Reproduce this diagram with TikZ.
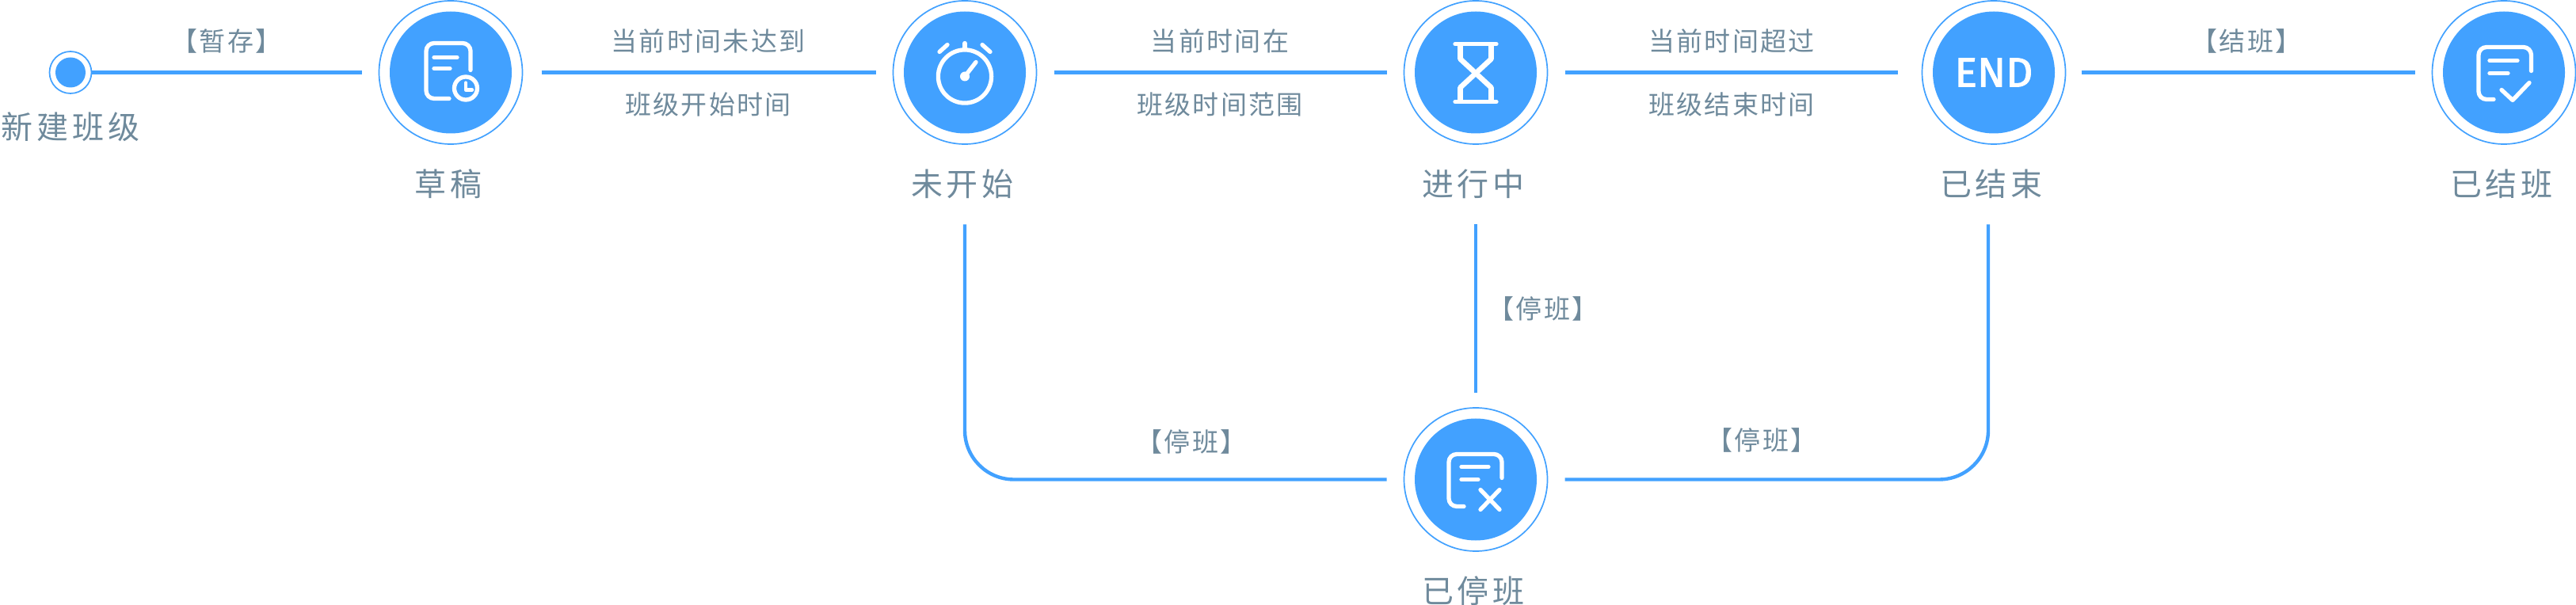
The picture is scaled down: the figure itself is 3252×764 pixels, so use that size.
\documentclass[tikz,border=0pt]{standalone}
\usepackage{fontspec}
\usepackage{xcolor}
\usetikzlibrary{positioning}
\setmainfont{Noto Sans CJK SC}
\newfontfamily\captionfont[LetterSpace=12]{Noto Sans CJK SC}
\newfontfamily\notefont[LetterSpace=7]{Noto Sans CJK SC}
\newfontfamily\endfont[FakeStretch=1.02,FakeBold=2]{Fira Sans}
\definecolor{flowblue}{HTML}{42A1FF}
\definecolor{flowgray}{HTML}{6F8A9C}

\begin{document}
\begin{tikzpicture}[  x=0.5pt,  y=-0.5pt,  node distance=15pt,  stage/.style={    circle,    draw=flowblue,    line width=0.85pt,    inner sep=0pt,    outer sep=0pt,    minimum size=90.5pt,    path picture={\fill[flowblue] (path picture bounding box.center) circle (38.5pt);}  },  startdot/.style={    circle,    draw=flowblue,    line width=0.85pt,    inner sep=0pt,    outer sep=0pt,    minimum size=26.5pt,    path picture={\fill[flowblue] (path picture bounding box.center) circle (9.5pt);}  },  caption/.style={    inner sep=0pt,    xshift=-1.5pt,    text=flowgray,    font=\captionfont\fontsize{20pt}{20pt}\selectfont,    text height=17.6pt,    text depth=2.4pt  },  note/.style={    inner sep=0pt,    text=flowgray,    font=\notefont\fontsize{16.5pt}{16.5pt}\selectfont,    text height=15.3pt,    text depth=2.7pt  },  link/.style={    flowblue,    line width=2.2pt,    shorten >=11pt,    shorten <=11pt  },  icon/.style={    draw=white,    line width=2.65pt,    line cap=round,    line join=round  }]
		\useasboundingbox (0,0) rectangle (3252,764);
		% Nodes
		\node[startdot] (xinjian) at (89,91.5) {};
		\node[stage] (caogao) at (569,91.5) {};
		\node[stage] (weikaishi) at (1218,91.5) {};
		\node[stage] (jinxing) at (1863,91.5) {};
		\node[stage, text=white, font=\endfont\fontsize{26pt}{26pt}\selectfont] (jieshu) at (2517,91.5) {END};
		\node[stage] (jieban) at (3161,91.5) {};
		\node[stage] (tingban) at (1863,605.5) {};
		\coordinate (jieshutap) at ([xshift=-3.5pt]jieshu.south);
		% Arrows
		\draw[link, shorten <=0pt] (xinjian) -- (caogao);
		\draw[link, shorten <=12pt] (caogao) -- (weikaishi);
		\draw[link] (weikaishi) -- (jinxing);
		\draw[link, shorten >=15.5pt] (jinxing) -- (jieshu);
		\draw[link, shorten <=10pt] (jieshu) -- (jieban);
		\draw[link, shorten <=50.75pt, rounded corners=31pt] (weikaishi.south) |- (tingban.west);
		\draw[link, shorten <=50.75pt, shorten >=9.25pt] (jinxing.south) -- (tingban.north);
		\draw[link, shorten >=50.75pt, rounded corners=31pt] (tingban.east) -| (jieshutap);
		% Icons
		\begin{scope}[shift={(caogao)}]
			\draw[icon, rounded corners=5pt] (25,-3) -- (25,-37) -- (-31,-37) -- (-31,33) -- (-2,33);
			\draw[icon] (-21,-19) -- (8,-19);
			\draw[icon] (-21,-5) -- (-1,-5);
			\draw[icon] (19,20) circle (7.25pt);
			\draw[icon, line width=2.2pt] (19,13) -- (19,22) -- (27,22);
		\end{scope}
		\begin{scope}[shift={(weikaishi)}]
			\draw[icon] (0,5) circle (16.8pt);
			\draw[icon] (0,-37) -- (0,-30);
			\draw[icon] (-32,-26) -- (-22,-35);
			\draw[icon] (32,-26) -- (22,-35);
			\draw[icon] (0,5) -- (14,-13);
			\fill[white] (0,5) circle (3pt);
		\end{scope}
		\begin{scope}[shift={(jinxing)}]
			\draw[icon] (-26,-36) -- (26,-36);
			\draw[icon] (-26,37) -- (26,37);
			\draw[icon, line width=3.3pt, line cap=butt] (-19.5,-36) -- (-19.5,-17) -- (19.5,19) -- (19.5,37);
			\draw[icon, line width=3.3pt, line cap=butt] (19.5,-36) -- (19.5,-17) -- (-19.5,19) -- (-19.5,37);
		\end{scope}
		\begin{scope}[shift={(jieban)}]
			\draw[icon, rounded corners=5pt] (34.5,-2) -- (34.5,-32) -- (-32,-32) -- (-32,34) -- (-13,34);
			\draw[icon] (-18,-15) -- (17,-15);
			\draw[icon] (-18,1) -- (5,1);
			\draw[icon] (-3,22) -- (11,35) -- (32,13);
		\end{scope}
		\begin{scope}[shift={(tingban)}]
			\draw[icon, rounded corners=5pt] (33,-2) -- (33,-32) -- (-34,-32) -- (-34,34) -- (-15,34);
			\draw[icon] (-18,-16) -- (16,-16);
			\draw[icon] (-18,0) -- (3,0);
			\draw[icon] (6,13) -- (30,38);
			\draw[icon] (30,13) -- (6,38);
		\end{scope}
		% Labels
		\node[caption, xshift=1.5pt, below=11pt of xinjian] (xinjianlabel) {新建班级};
		\node[caption, below=of caogao] (caogaolabel) {草稿};
		\node[caption, below=of weikaishi] (weikaishilabel) {未开始};
		\node[caption, below=of jinxing] (jinxinglabel) {进行中};
		\node[caption, below=of jieshu] (jieshulabel) {已结束};
		\node[caption, below=of jieban] (jiebanlabel) {已结班};
		\node[caption, below=of tingban] (tingbanlabel) {已停班};
		\node[note] (zancun) at (286,52) {【暂存】};
		\node[note] (weidaup) at (894,52) {当前时间未达到};
		\node[note] (weidadown) at (894,132) {班级开始时间};
		\node[note] (zaiup) at (1540,52) {当前时间在};
		\node[note] (zaidown) at (1540,132) {班级时间范围};
		\node[note] (chaoup) at (2186,52) {当前时间超过};
		\node[note] (chaodown) at (2186,132) {班级结束时间};
		\node[note] (jiebanop) at (2836,52) {【结班】};
		\node[note] (tingleft) at (1504,558) {【停班】};
		\node[note] (tingmid) at (1948,390) {【停班】};
		\node[note] (tingright) at (2224,556) {【停班】};
	\end{tikzpicture}
\end{document}
